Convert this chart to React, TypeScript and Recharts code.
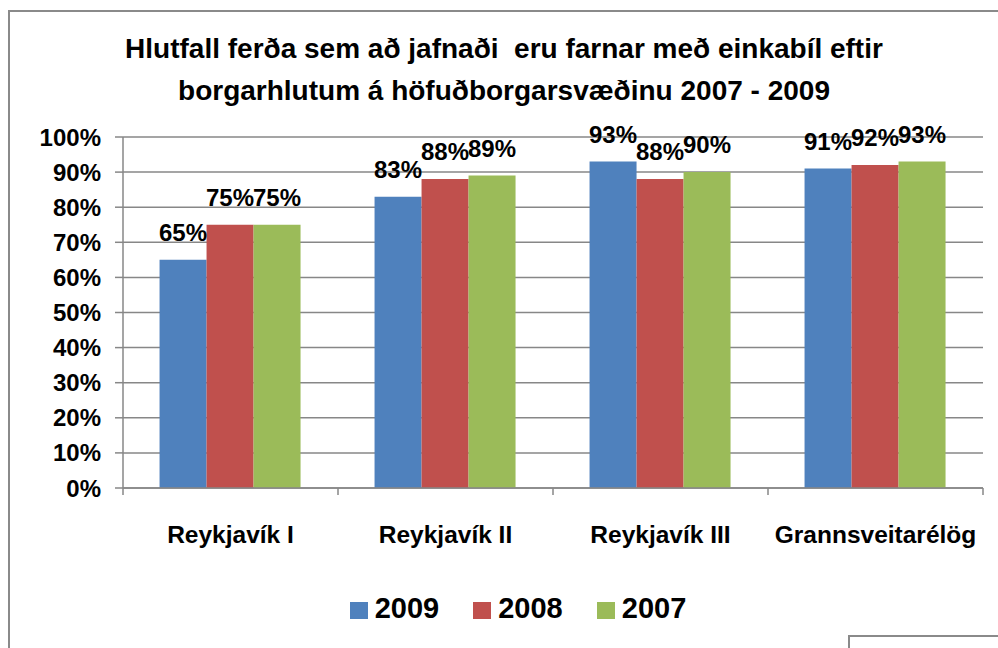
import { BarChart, Bar, XAxis, YAxis, CartesianGrid, LabelList } from 'recharts'

const categories = ['Reykjavík I', 'Reykjavík II', 'Reykjavík III', 'Grannsveitarélög']
const values2009 = [65, 83, 93, 91]
const values2008 = [75, 88, 88, 92]
const values2007 = [75, 89, 90, 93]
const yTicks = [0, 10, 20, 30, 40, 50, 60, 70, 80, 90, 100]

const seriesNames = ['2009', '2008', '2007']
const seriesColors = ['#4F81BD', '#C0504D', '#9BBB59']

const data = categories.map((name, i) => ({
    name,
    y2009: values2009[i],
    y2008: values2008[i],
    y2007: values2007[i],
}))

const FONT = '"Liberation Sans", Arial, sans-serif'
const GRID = '#878787'
const X_TICK_MARGIN = 32
const X_TICK_SIZE = 6

function ValueLabel(props: any) {
    const { x, y, width, value } = props
    return (
        <text
            x={Number(x) + Number(width) / 2}
            y={Number(y) - 19}
            textAnchor="middle"
            fontFamily={FONT}
            fontWeight="bold"
            fontSize={24}
            fill="#000"
        >
            {value}%
        </text>
    )
}

// category label plus the small marks at the category edges (Excel style)
function CategoryTick(props: any) {
    const { x, y, payload, index } = props
    const half = payload.offset || 0
    const axisY = y - X_TICK_MARGIN - X_TICK_SIZE
    const isLast = index === categories.length - 1
    return (
        <g>
            <line x1={x - half} x2={x - half} y1={axisY} y2={axisY + 7} stroke={GRID} strokeWidth={1.5} />
            {isLast && (
                <line x1={x + half} x2={x + half} y1={axisY} y2={axisY + 7} stroke={GRID} strokeWidth={1.5} />
            )}
            <text
                x={x}
                y={y}
                dy="0.71em"
                textAnchor="middle"
                fill="#000"
                fontSize={24.5}
                fontWeight="bold"
                fontFamily={FONT}
            >
                {payload.value}
            </text>
        </g>
    )
}

export default function App() {
    return (
        <div
            style={{
                position: 'fixed',
                left: 0,
                top: 0,
                width: 998,
                height: 648,
                background: '#fff',
                overflow: 'hidden',
                fontFamily: FONT,
            }}
        >
            <div
                style={{
                    position: 'absolute',
                    left: 8,
                    top: 10,
                    width: 1000,
                    height: 700,
                    border: '2px solid #8a8a8a',
                }}
            />
            <div
                style={{
                    position: 'absolute',
                    left: 0,
                    top: 28,
                    width: 1008,
                    textAlign: 'center',
                    fontWeight: 'bold',
                    fontSize: 28,
                    lineHeight: '42px',
                    color: '#000',
                    whiteSpace: 'pre',
                }}
            >
                {'Hlutfall ferða sem að jafnaði  eru farnar með einkabíl eftir\nborgarhlutum á höfuðborgarsvæðinu 2007 - 2009'}
            </div>
            <div style={{ position: 'absolute', left: 0, top: 0 }}>
                <BarChart
                    width={998}
                    height={648}
                    data={data}
                    margin={{ top: 137, right: 15, left: 43, bottom: 100 }}
                    barGap={0}
                    barCategoryGap="17%"
                >
                    <CartesianGrid vertical={false} stroke={GRID} strokeWidth={1.5} />
                    <XAxis
                        dataKey="name"
                        tickLine={false}
                        tickSize={X_TICK_SIZE}
                        axisLine={{ stroke: GRID, strokeWidth: 1.5 }}
                        tickMargin={X_TICK_MARGIN}
                        height={60}
                        interval={0}
                        tick={<CategoryTick />}
                    />
                    <YAxis
                        width={80}
                        domain={[0, 100]}
                        ticks={yTicks}
                        interval={0}
                        tickFormatter={(v) => `${v}%`}
                        axisLine={{ stroke: GRID, strokeWidth: 1.5 }}
                        tickLine={{ stroke: GRID, strokeWidth: 1.5 }}
                        tickSize={8}
                        tickMargin={14}
                        tick={{ fill: '#000', fontSize: 24, fontWeight: 'bold', fontFamily: FONT }}
                    />
                    {seriesNames.map((s, i) => (
                        <Bar
                            key={s}
                            dataKey={`y${s}`}
                            fill={seriesColors[i]}
                            isAnimationActive={false}
                        >
                            <LabelList dataKey={`y${s}`} content={ValueLabel} />
                        </Bar>
                    ))}
                </BarChart>
            </div>
            <div
                style={{
                    position: 'absolute',
                    left: 0,
                    top: 592,
                    width: 1036,
                    display: 'flex',
                    justifyContent: 'center',
                    fontWeight: 'bold',
                    fontSize: 29,
                    lineHeight: '32px',
                }}
            >
                {seriesNames.map((s, i) => (
                    <div key={s} style={{ display: 'flex', alignItems: 'center', marginRight: i < 2 ? 34 : 0 }}>
                        <span
                            style={{
                                display: 'inline-block',
                                width: 18,
                                height: 17,
                                background: seriesColors[i],
                                marginRight: 7,
                                marginTop: 4,
                            }}
                        />
                        <span>{s}</span>
                    </div>
                ))}
            </div>
            <div
                style={{
                    position: 'absolute',
                    left: 848,
                    top: 635,
                    width: 200,
                    height: 100,
                    border: '2px solid #8a8a8a',
                    borderRight: 'none',
                }}
            />
        </div>
    )
}
